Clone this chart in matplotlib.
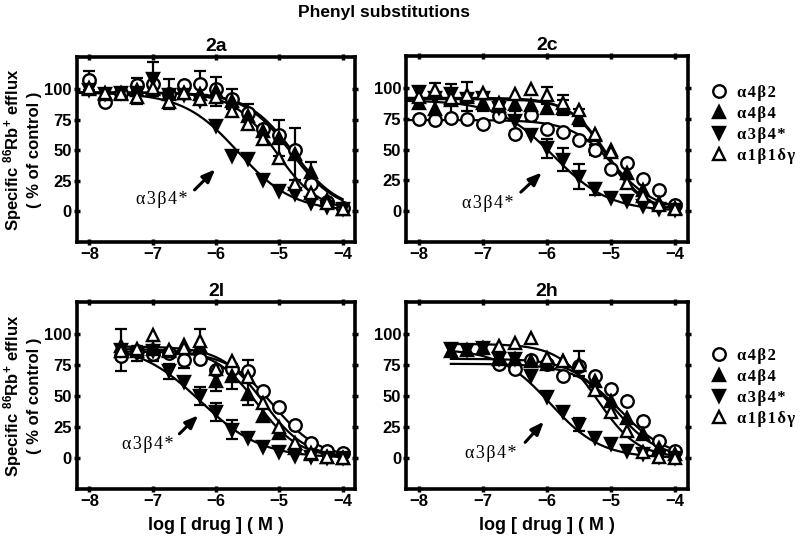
import numpy as np
import matplotlib
matplotlib.use('Agg')
import matplotlib.pyplot as plt
from matplotlib.lines import Line2D

plt.rcParams['font.family'] = ['Liberation Sans', 'DejaVu Sans']
plt.rcParams['font.weight'] = 'bold'
plt.rcParams['mathtext.fontset'] = 'custom'
plt.rcParams['mathtext.rm'] = 'Liberation Sans:bold'
plt.rcParams['mathtext.bf'] = 'Liberation Sans:bold'
plt.rcParams['mathtext.default'] = 'bf'

# Подписи рецепторов и стиль маркеров
receptors = ['α4β2', 'α4β4', 'α3β4*', 'α1β1δγ']
markers = ['o', '^', 'v', '^']
faces = ['white', 'black', 'black', 'white']

panel_titles = ['2a', '2c', '2l', '2h']

# Концентрации (log M)
x_full = [-8, -7.75, -7.5, -7.25, -7, -6.75, -6.5, -6.25, -6, -5.75, -5.5, -5.25, -5, -4.75, -4.5, -4.25, -4]
x_short = [-7.5, -7.25, -7, -6.75, -6.5, -6.25, -6, -5.75, -5.5, -5.25, -5, -4.75, -4.5, -4.25, -4]
nan = np.nan

# 2a
y_2a_a4b2 = [107, 89, 97, 103, 104, 96, 103, 104, 100, 92, 80, 67, 62, 50, 22, 8, 3]
y_2a_a4b4 = [100, 96, 97, 99, 100, 96, 97, 96, 98, 90, 78, 66, 60, 47, 32, 9, 2]
y_2a_a3b4 = [99, 96, 97, 97, 108, 95, 95, 90, 70, 45, 43, 26, 17, 14, 7, 4, 2]
y_2a_a1b1 = [101, 97, 96, 93, 101, 89, 97, 92, 93, 82, 71, 59, 44, 22, 15, 7, 2]
e_2a_a4b2 = [8, 0, 0, 6, 0, 0, 0, 11, 0, 8, 0, 0, 0, 0, 0, 0, 0]
e_2a_a4b4 = [0, 0, 0, 0, 0, 12, 0, 0, 12, 0, 10, 0, 15, 21, 8, 0, 0]
e_2a_a3b4 = [0, 0, 0, 0, 14, 0, 0, 0, 0, 0, 0, 0, 0, 0, 0, 0, 0]
e_2a_a1b1 = [0, 0, 0, 5, 0, 0, 0, 0, 0, 0, 0, 0, 0, 0, 0, 0, 0]
top_2a = [97, 97, 97, 97]
ic50_2a = [-4.82, -4.78, -5.65, -5.05]
hill_2a = [1.2, 1.2, 1.0, 1.3]

# 2c
y_2c_a4b2 = [75, 74, 76, 75, 71, 77, 63, 78, 67, 64, 58, 50, 34, 39, 26, 17, 5]
y_2c_a4b4 = [88, 83, 90, 93, 88, 85, 87, 86, 84, 84, 76, 62, 50, 31, 17, 7, 3]
y_2c_a3b4 = [97, 92, 95, 91, 92, 84, 73, 62, 51, 42, 28, 18, 11, 8, 4, 2, 1]
y_2c_a1b1 = [93, 98, 92, 94, 96, 88, 95, 99, 94, 88, 82, 63, 48, 23, 12, 5, 2]
e_2c_a4b2 = [0, 0, 0, 0, 0, 0, 0, 5, 0, 0, 0, 4, 0, 0, 0, 0, 0]
e_2c_a4b4 = [0, 0, 13, 12, 7, 0, 0, 0, 0, 6, 7, 0, 0, 0, 0, 0, 0]
e_2c_a3b4 = [0, 0, 0, 0, 0, 6, 8, 0, 8, 9, 10, 5, 0, 0, 0, 0, 0]
e_2c_a1b1 = [0, 6, 0, 0, 0, 0, 0, 0, 7, 6, 0, 0, 0, 0, 0, 0, 0]
top_2c = [74, 91, 90, 92]
ic50_2c = [-4.95, -5.05, -5.9, -5.08]
hill_2c = [1.3, 1.5, 1.0, 1.5]

# 2l
y_2l_a4b2 = [82, 86, 84, 85, 79, 80, 71, 72, 70, 54, 41, 27, 12, 6, 4]
y_2l_a4b4 = [90, 86, 88, 86, 91, 90, 62, 66, 52, 34, 20, 8, 3, 1, 0]
y_2l_a3b4 = [87, 84, 86, 70, 61, 50, 37, 23, 16, 9, 5, 2, 1, 0, 0]
y_2l_a1b1 = [86, 88, 99, 87, 89, 94, 72, 78, 65, 44, 25, 12, 4, 1, 0]
e_2l_a4b2 = [0, 0, 0, 0, 6, 0, 0, 0, 9, 0, 0, 0, 0, 0, 0]
e_2l_a4b4 = [0, 0, 0, 0, 0, 0, 8, 10, 9, 0, 0, 0, 0, 0, 0]
e_2l_a3b4 = [17, 6, 8, 6, 0, 7, 7, 8, 0, 0, 0, 0, 0, 0, 0]
e_2l_a1b1 = [0, 0, 0, 0, 0, 10, 0, 0, 0, 0, 0, 0, 0, 0, 0]
top_2l = [86, 88, 92, 90]
ic50_2l = [-5.1, -5.35, -6.25, -5.25]
hill_2l = [1.2, 1.3, 0.9, 1.3]

# 2h
y_2h_a4b2 = [nan, nan, nan, 76, 72, 79, 76, 66, 74, 66, 56, 46, 30, 14, 6]
y_2h_a4b4 = [86, 87, 89, 80, 80, 78, 76, 78, 76, 62, 46, 32, 19, 8, 3]
y_2h_a3b4 = [88, 87, 89, 80, 80, 66, 49, 37, 27, 16, 11, 6, 3, 1, 0]
y_2h_a1b1 = [nan, nan, nan, 90, 93, 97, 81, 78, 75, 55, 37, 22, 5, 1, 0]
e_2h_a4b2 = [0] * 15
e_2h_a4b4 = [0, 0, 0, 0, 0, 0, 0, 0, 10, 0, 0, 0, 0, 0, 0]
e_2h_a3b4 = [0, 0, 0, 0, 0, 0, 0, 0, 5, 0, 0, 0, 0, 0, 0]
e_2h_a1b1 = [0] * 15
top_2h = [76, 80, 88, 92]
ic50_2h = [-4.85, -4.95, -5.95, -5.2]
hill_2h = [1.2, 1.3, 1.1, 1.4]

panels = [
    (x_full, [y_2a_a4b2, y_2a_a4b4, y_2a_a3b4, y_2a_a1b1], [e_2a_a4b2, e_2a_a4b4, e_2a_a3b4, e_2a_a1b1], top_2a, ic50_2a, hill_2a),
    (x_full, [y_2c_a4b2, y_2c_a4b4, y_2c_a3b4, y_2c_a1b1], [e_2c_a4b2, e_2c_a4b4, e_2c_a3b4, e_2c_a1b1], top_2c, ic50_2c, hill_2c),
    (x_short, [y_2l_a4b2, y_2l_a4b4, y_2l_a3b4, y_2l_a1b1], [e_2l_a4b2, e_2l_a4b4, e_2l_a3b4, e_2l_a1b1], top_2l, ic50_2l, hill_2l),
    (x_short, [y_2h_a4b2, y_2h_a4b4, y_2h_a3b4, y_2h_a1b1], [e_2h_a4b2, e_2h_a4b4, e_2h_a3b4, e_2h_a1b1], top_2h, ic50_2h, hill_2h),
]

# Подпись α3β4* со стрелкой: (текст x, y), (хвост), (острие)
arrow_text = [(-6.85, 10), (-6.92, 6), (-7.08, 11), (-6.87, 4)]
arrow_tail = [(-6.37, 16), (-6.44, 14), (-6.61, 18), (-6.37, 11)]
arrow_head = [(-5.98, 36), (-6.05, 33), (-6.25, 36), (-6.02, 31)]

positions = [
    [0.096, 0.550, 0.348, 0.344],
    [0.5075, 0.550, 0.3525, 0.346],
    [0.096, 0.091, 0.348, 0.348],
    [0.5075, 0.091, 0.3525, 0.348],
]


def spaced(s):
    # в оригинале греческие подписи набраны разреженно
    return '\u200a'.join(s)


fig = plt.figure(figsize=(8, 5.38), dpi=100)
fig.text(0.48, 0.977, 'Phenyl substitutions', ha='center', va='center', fontsize=12.5, fontweight='bold')

serif = {'family': ['Liberation Serif', 'DejaVu Serif'], 'size': 13, 'weight': 'normal'}

for k, (xs, ys, es, tops, ics, hills) in enumerate(panels):
    ax = fig.add_axes(positions[k])
    xs = np.array(xs)
    xc = np.linspace(xs[0] if k >= 2 else -8.2, -4, 200)
    for i in range(4):
        yc = tops[i] / (1 + 10 ** ((xc - ics[i]) * hills[i]))
        ax.plot(xc, yc, color='black', lw=1.6, zorder=2)
    for i in range(4):
        y = np.array(ys[i], dtype=float)
        e = np.array(es[i], dtype=float)
        m = e > 0
        if m.any():
            ax.errorbar(xs[m], y[m], yerr=e[m], fmt='none', ecolor='black',
                        elinewidth=1.6, capsize=4.5, capthick=1.6, zorder=3)
        ax.plot(xs, y, linestyle='none', marker=markers[i], markersize=9,
                markerfacecolor=faces[i], markeredgecolor='black', markeredgewidth=1.7, zorder=4)

    ax.text(arrow_text[k][0], arrow_text[k][1], spaced('α3β4*'), ha='center', va='center', fontdict=serif)
    ax.annotate('', xy=arrow_head[k], xytext=arrow_tail[k],
                arrowprops=dict(arrowstyle='-|>,head_length=0.55,head_width=0.22', color='black', lw=2.2, mutation_scale=14))

    ax.set_xlim(-8.2, -3.8)
    ax.set_ylim(-25, 126)
    ax.set_xticks([-8, -7, -6, -5, -4])
    ax.set_yticks([0, 25, 50, 75, 100])
    ax.tick_params(direction='inout', length=5, width=2.5, top=True, right=True,
                   labelsize=12, pad=1)
    for s in ax.spines.values():
        s.set_linewidth(2.6)
    ax.set_title(panel_titles[k], fontsize=14, fontweight='bold', pad=4)
    if k % 2 == 0:
        ax.set_ylabel('Specific $^{86}$Rb$^{+}$ efflux\n( % of control )', fontsize=12, fontweight='bold', labelpad=2)
    if k >= 2:
        ax.set_xlabel('log [ drug ] ( M )', fontsize=13, fontweight='bold', labelpad=6)

handles = [Line2D([], [], linestyle='none', marker=markers[i], markersize=9,
                  markerfacecolor=faces[i], markeredgecolor='black', markeredgewidth=1.7) for i in range(4)]
for yy in [0.855, 0.365]:
    fig.legend(handles, [spaced(r) for r in receptors], loc='upper left', bbox_to_anchor=(0.88, yy), frameon=False,
               handlelength=1.0, handletextpad=0.6, labelspacing=0.3, borderaxespad=0,
               prop={'family': ['Liberation Serif', 'DejaVu Serif'], 'size': 12})

plt.savefig('out.png', dpi=100)
